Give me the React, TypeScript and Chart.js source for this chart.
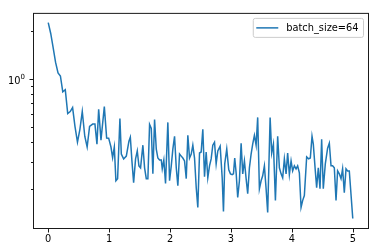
import React, { useEffect, useRef } from "react";
import { Chart, registerables } from "chart.js";

Chart.register(...registerables);

const seriesLabel = "batch_size=64";
const xTicks = [0, 1, 2, 3, 4, 5];
const yTicks = [0.2, 0.3, 0.4, 0.5, 0.6, 0.7, 0.8, 0.9, 1, 2];

const epochs = [
  0, 0.041, 0.08, 0.12, 0.161, 0.2, 0.239, 0.28, 0.32, 0.361, 0.4, 0.439, 0.48, 0.52, 0.559, 0.6, 0.639, 0.679,
  0.73, 0.767, 0.8, 0.828, 0.866, 0.921, 0.959, 0.992, 1.03, 1.057, 1.085, 1.111, 1.139, 1.177, 1.2, 1.238,
  1.282, 1.325, 1.348, 1.374, 1.402, 1.434, 1.462, 1.489, 1.516, 1.554, 1.582, 1.61, 1.636, 1.664, 1.692,
  1.718, 1.746, 1.774, 1.8, 1.828, 1.856, 1.872, 1.898, 1.926, 1.964, 1.992, 2.02, 2.046, 2.074, 2.102,
  2.128, 2.156, 2.184, 2.21, 2.238, 2.266, 2.292, 2.32, 2.348, 2.374, 2.402, 2.43, 2.456, 2.484, 2.511,
  2.538, 2.566, 2.593, 2.62, 2.648, 2.675, 2.702, 2.73, 2.757, 2.784, 2.823, 2.856, 2.877, 2.898, 2.931,
  2.964, 2.992, 3.02, 3.041, 3.062, 3.085, 3.111, 3.139, 3.167, 3.193, 3.221, 3.249, 3.275, 3.303, 3.331,
  3.357, 3.385, 3.413, 3.439, 3.467, 3.495, 3.521, 3.549, 3.577, 3.603, 3.643, 3.669, 3.697, 3.73, 3.767,
  3.795, 3.823, 3.849, 3.877, 3.905, 3.931, 3.959, 3.987, 4.013, 4.041, 4.069, 4.095, 4.123, 4.151, 4.177,
  4.205, 4.243, 4.275, 4.303, 4.331, 4.352, 4.385, 4.407, 4.434, 4.462, 4.489, 4.516, 4.549, 4.587, 4.615,
  4.643, 4.669, 4.697, 4.725, 4.751, 4.779, 4.807, 4.833, 4.861, 4.889, 4.915, 4.943, 5.0,
];

const losses = [
  2.27, 1.94, 1.585, 1.277, 1.09, 1.044, 0.829, 0.854, 0.604, 0.622, 0.659, 0.501, 0.398, 0.48, 0.622, 0.434, 0.371, 0.501,
  0.518, 0.518, 0.387, 0.643, 0.41, 0.668, 0.423, 0.422, 0.371, 0.318, 0.371, 0.227, 0.234, 0.562, 0.335, 0.312,
  0.325, 0.404, 0.428, 0.303, 0.221, 0.312, 0.35, 0.282, 0.274, 0.381, 0.274, 0.234, 0.234, 0.516, 0.487,
  0.251, 0.554, 0.36, 0.316, 0.307, 0.307, 0.27, 0.307, 0.218, 0.531, 0.227, 0.282, 0.36, 0.434, 0.274,
  0.211, 0.335, 0.325, 0.316, 0.303, 0.234, 0.44, 0.316, 0.335, 0.381, 0.316, 0.205, 0.154, 0.34, 0.345,
  0.48, 0.241, 0.345, 0.237, 0.282, 0.312, 0.381, 0.398, 0.29, 0.35, 0.376, 0.237, 0.145, 0.29, 0.36,
  0.266, 0.251, 0.248, 0.251, 0.316, 0.255, 0.178, 0.227, 0.392, 0.251, 0.303, 0.234, 0.188, 0.274, 0.335,
  0.387, 0.44, 0.381, 0.571, 0.202, 0.227, 0.244, 0.282, 0.202, 0.143, 0.571, 0.34, 0.387, 0.17, 0.434,
  0.274, 0.251, 0.237, 0.312, 0.251, 0.34, 0.248, 0.303, 0.262, 0.282, 0.27, 0.282, 0.255, 0.154, 0.17,
  0.183, 0.321, 0.312, 0.316, 0.434, 0.387, 0.262, 0.205, 0.274, 0.202, 0.416, 0.202, 0.29, 0.365, 0.392,
  0.282, 0.282, 0.274, 0.17, 0.262, 0.251, 0.234, 0.27, 0.191, 0.27, 0.262, 0.262, 0.131,
];

const LINE = "#1f77b4";
const FONT = "DejaVu Sans";

const framePlugin = {
  id: "frame",
  afterDraw(chart: any) {
    const { ctx, chartArea: ca, scales } = chart;
    ctx.save();
    ctx.strokeStyle = "#1a1a1a";
    ctx.lineWidth = 1;
    // axes box
    ctx.strokeRect(ca.left + 0.5, ca.top + 0.5, ca.right - ca.left, ca.bottom - ca.top);
    // x ticks
    const xs = scales.x;
    xTicks.forEach((v) => {
      const px = Math.round(xs.getPixelForValue(v)) + 0.5;
      ctx.beginPath();
      ctx.moveTo(px, ca.bottom + 1);
      ctx.lineTo(px, ca.bottom + 4.5);
      ctx.stroke();
    });
    // y ticks
    const ys = scales.y;
    yTicks.forEach((v) => {
      const py = Math.round(ys.getPixelForValue(v)) + 0.5;
      const len = v === 1 ? 3.5 : 2;
      ctx.beginPath();
      ctx.moveTo(ca.left, py);
      ctx.lineTo(ca.left - len, py);
      ctx.stroke();
    });
    // y major label 10^0 with real superscript
    const y1 = ys.getPixelForValue(1);
    ctx.fillStyle = "#000";
    ctx.textBaseline = "alphabetic";
    ctx.textAlign = "left";
    ctx.font = `9.8px "${FONT}"`;
    const baseW = ctx.measureText("10").width;
    ctx.font = `7px "${FONT}"`;
    const supW = ctx.measureText("0").width;
    const labelRight = ca.left - 8;
    const lx = labelRight - baseW - supW;
    ctx.font = `9.8px "${FONT}"`;
    ctx.fillText("10", lx, y1 + 5.3);
    ctx.font = `7px "${FONT}"`;
    ctx.fillText("0", lx + baseW, y1 - 0.3);
    // legend
    ctx.font = `9.8px "${FONT}"`;
    const tw = ctx.measureText(seriesLabel).width;
    const right = ca.right - 4.5;
    const top = ca.top + 5.5;
    const h = 19;
    const left = right - 5 - tw - 8 - 22 - 3;
    const r = 2;
    ctx.beginPath();
    ctx.moveTo(left + r, top);
    ctx.lineTo(right - r, top);
    ctx.arcTo(right, top, right, top + r, r);
    ctx.lineTo(right, top + h - r);
    ctx.arcTo(right, top + h, right - r, top + h, r);
    ctx.lineTo(left + r, top + h);
    ctx.arcTo(left, top + h, left, top + h - r, r);
    ctx.lineTo(left, top + r);
    ctx.arcTo(left, top, left + r, top, r);
    ctx.closePath();
    ctx.fillStyle = "rgba(255,255,255,0.8)";
    ctx.fill();
    ctx.strokeStyle = "#cccccc";
    ctx.lineWidth = 1;
    ctx.stroke();
    const cy = top + h / 2;
    ctx.strokeStyle = LINE;
    ctx.lineWidth = 1.5;
    ctx.beginPath();
    ctx.moveTo(left + 3, cy);
    ctx.lineTo(left + 25, cy);
    ctx.stroke();
    ctx.fillStyle = "#000";
    ctx.textBaseline = "middle";
    ctx.textAlign = "left";
    ctx.fillText(seriesLabel, left + 33, cy + 0.5);
    ctx.restore();
  },
};

export default function App() {
  const ref = useRef<HTMLCanvasElement | null>(null);
  useEffect(() => {
    if (!ref.current) return;
    const points = epochs.map((x, i) => ({ x, y: losses[i] }));
    const chart = new Chart(ref.current, {
      type: "line",
      data: {
        datasets: [
          {
            label: seriesLabel,
            data: points,
            borderColor: LINE,
            backgroundColor: LINE,
            borderWidth: 1.5,
            pointRadius: 0,
            tension: 0,
            fill: false,
          },
        ],
      },
      plugins: [framePlugin],
      options: {
        animation: false,
        responsive: false,
        layout: { padding: { top: 10, right: 10, left: 0, bottom: 0 } },
        plugins: { legend: { display: false }, tooltip: { enabled: false } },
        scales: {
          x: {
            type: "linear",
            min: -0.25,
            max: 5.25,
            grid: { display: false, drawTicks: false },
            border: { display: false },
            afterBuildTicks: (s: any) => {
              s.ticks = xTicks.map((v) => ({ value: v }));
            },
            afterFit: (s: any) => {
              s.height = 24;
            },
            ticks: {
              padding: 6,
              color: "#000",
              font: { family: FONT, size: 9.8 },
              maxRotation: 0,
              callback: (v: any) => String(v),
            },
          },
          y: {
            type: "logarithmic",
            min: Math.pow(10, -0.943),
            max: Math.pow(10, 0.418),
            grid: { display: false, drawTicks: false },
            border: { display: false },
            afterBuildTicks: (s: any) => {
              s.ticks = yTicks.map((v) => ({ value: v }));
            },
            afterFit: (s: any) => {
              s.width = 33;
            },
            ticks: {
              padding: 7,
              color: "#000",
              font: { family: FONT, size: 9.8 },
              autoSkip: false,
              callback: () => "",
            },
          },
        },
      },
    });
    return () => chart.destroy();
  }, []);
  return (
    <div style={{ position: "fixed", left: 0, top: 0, width: 378, height: 252, background: "#fff" }}>
      <canvas ref={ref} width={378} height={252} />
    </div>
  );
}
